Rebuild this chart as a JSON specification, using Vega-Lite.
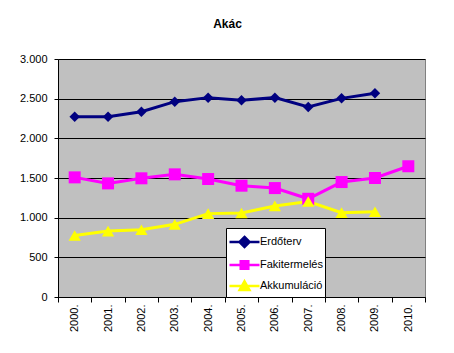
{
  "$schema": "https://vega.github.io/schema/vega-lite/v6.json",
  "width": 367,
  "height": 238,
  "autosize": {"type": "none"},
  "padding": {"left": 58, "top": 59, "right": 29, "bottom": 56},
  "background": "white",
  "config": {
    "font": "Liberation Sans",
    "view": {"fill": "#C0C0C0", "stroke": "#808080", "strokeWidth": 1}
  },
  "title": {
    "text": "Akác",
    "fontSize": 12,
    "fontWeight": "bold",
    "font": "Liberation Sans",
    "color": "black",
    "anchor": "middle",
    "offset": 22,
    "dx": -14
  },
  "data": {
    "values": [
      {"year": "2000.", "series": "Erdőterv", "value": 2272},
      {"year": "2001.", "series": "Erdőterv", "value": 2272},
      {"year": "2002.", "series": "Erdőterv", "value": 2335},
      {"year": "2003.", "series": "Erdőterv", "value": 2462},
      {"year": "2004.", "series": "Erdőterv", "value": 2513},
      {"year": "2005.", "series": "Erdőterv", "value": 2479},
      {"year": "2006.", "series": "Erdőterv", "value": 2513},
      {"year": "2007.", "series": "Erdőterv", "value": 2395},
      {"year": "2008.", "series": "Erdőterv", "value": 2504},
      {"year": "2009.", "series": "Erdőterv", "value": 2568},
      {"year": "2000.", "series": "Fakitermelés", "value": 1508},
      {"year": "2001.", "series": "Fakitermelés", "value": 1432},
      {"year": "2002.", "series": "Fakitermelés", "value": 1496},
      {"year": "2003.", "series": "Fakitermelés", "value": 1546},
      {"year": "2004.", "series": "Fakitermelés", "value": 1487},
      {"year": "2005.", "series": "Fakitermelés", "value": 1403},
      {"year": "2006.", "series": "Fakitermelés", "value": 1373},
      {"year": "2007.", "series": "Fakitermelés", "value": 1238},
      {"year": "2008.", "series": "Fakitermelés", "value": 1449},
      {"year": "2009.", "series": "Fakitermelés", "value": 1500},
      {"year": "2010.", "series": "Fakitermelés", "value": 1648},
      {"year": "2000.", "series": "Akkumuláció", "value": 776},
      {"year": "2001.", "series": "Akkumuláció", "value": 831},
      {"year": "2002.", "series": "Akkumuláció", "value": 848},
      {"year": "2003.", "series": "Akkumuláció", "value": 916},
      {"year": "2004.", "series": "Akkumuláció", "value": 1051},
      {"year": "2005.", "series": "Akkumuláció", "value": 1059},
      {"year": "2006.", "series": "Akkumuláció", "value": 1148},
      {"year": "2007.", "series": "Akkumuláció", "value": 1203},
      {"year": "2008.", "series": "Akkumuláció", "value": 1063},
      {"year": "2009.", "series": "Akkumuláció", "value": 1075}
    ]
  },
  "encoding": {
    "x": {
      "field": "year",
      "type": "ordinal",
      "scale": {"type": "band", "paddingInner": 0, "paddingOuter": 0},
      "axis": {
        "title": null,
        "labelAngle": 270,
        "labelFontSize": 11,
        "labelColor": "black",
        "labelPadding": 2,
        "tickBand": "extent",
        "tickSize": 5,
        "tickColor": "black",
        "domainColor": "black",
        "grid": false
      }
    },
    "y": {
      "field": "value",
      "type": "quantitative",
      "scale": {"domain": [0, 3000], "nice": false},
      "axis": {
        "title": null,
        "values": [0, 500, 1000, 1500, 2000, 2500, 3000],
        "labelExpr": "replace(format(datum.value, ','), ',', '.')",
        "labelFontSize": 11,
        "labelColor": "black",
        "labelPadding": 7,
        "tickSize": 4,
        "tickColor": "black",
        "domainColor": "black",
        "grid": true,
        "gridColor": "black",
        "gridOpacity": 1
      }
    },
    "color": {
      "field": "series",
      "type": "nominal",
      "scale": {
        "domain": ["Erdőterv", "Fakitermelés", "Akkumuláció"],
        "range": ["#000080", "#FF00FF", "#FFFF00"]
      },
      "legend": {
        "title": null,
        "orient": "none",
        "legendX": 168,
        "legendY": 169,
        "strokeColor": "black",
        "fillColor": "white",
        "padding": 2,
        "rowPadding": 0,
        "symbolSize": 441,
        "labelFontSize": 11,
        "labelColor": "black",
        "labelOffset": 8,
        "encode": {
          "symbols": {
            "update": {
              "shape": {"signal": "datum.value === 'Erdőterv' ? 'M-1,0H1.857M0.43,-0.48L0.91,0L0.43,0.48L-0.05,0Z' : datum.value === 'Fakitermelés' ? 'M-1,0H1.857M0.07,-0.36H0.79V0.36H0.07Z' : 'M-1,0H1.857M0.43,-0.45L0.9,0.38H-0.04Z'"},
              "fill": {"scale": "color", "field": "value"},
              "stroke": {"scale": "color", "field": "value"},
              "strokeWidth": {"value": 2.5},
              "opacity": {"value": 1},
              "fillOpacity": {"value": 1}
            }
          }
        }
      }
    }
  },
  "layer": [
    {
      "mark": {"type": "line", "strokeWidth": 3}
    },
    {
      "transform": [{"filter": "datum.series === 'Erdőterv'"}],
      "mark": {"type": "point", "filled": true, "opacity": 1, "shape": "diamond", "size": 110}
    },
    {
      "transform": [{"filter": "datum.series === 'Fakitermelés'"}],
      "mark": {"type": "point", "filled": true, "opacity": 1, "shape": "square", "size": 144}
    },
    {
      "transform": [{"filter": "datum.series === 'Akkumuláció'"}],
      "mark": {"type": "point", "filled": true, "opacity": 1, "shape": "triangle-up", "size": 150}
    }
  ]
}
